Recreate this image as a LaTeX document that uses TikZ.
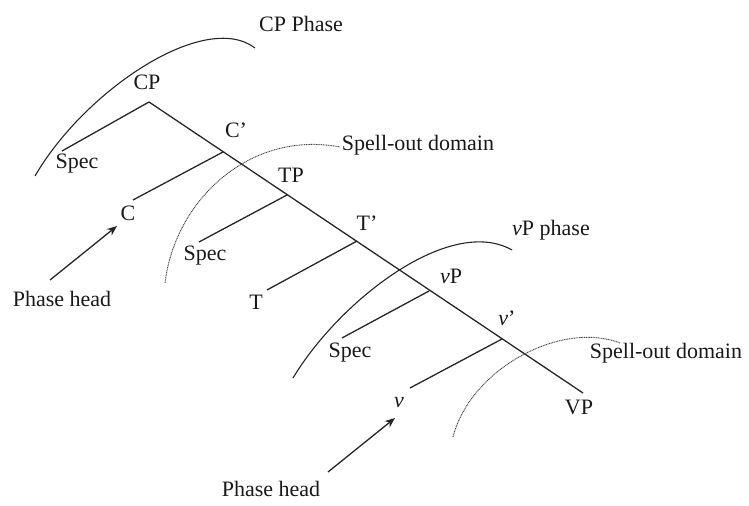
\documentclass[tikz,border=0pt]{standalone}
\usepackage{fontspec}
\setmainfont{Liberation Serif}
\usetikzlibrary{arrows.meta}
\begin{document}
\begin{tikzpicture}[x=0.5pt,y=-0.5pt,
  lbl/.style={font=\fontsize{11}{13}\selectfont, inner sep=0pt, text=black!90},
  branch/.style={line width=0.65pt, draw=black!85},
  phasearc/.style={line width=0.55pt, draw=black!85},
  spellarc/.style={line width=0.45pt, draw=black!75, dash pattern=on 0.5pt off 0.35pt},
  headarrow/.style={line width=0.65pt, draw=black!85, -{Stealth[length=5pt,width=4pt]}}]
\useasboundingbox (0,0) rectangle (749,506);
% labels
\node[lbl] (cpphase) at (301,24) {CP Phase};
\node[lbl] (cp) at (147,82) {CP};
\node[lbl] (spec1) at (77,164) {Spec};
\node[lbl] (cbar) at (236,130) {C’};
\node[lbl] (c) at (128,213) {C};
\node[lbl] (spell1) at (418,145) {Spell-out domain};
\node[lbl] (tp) at (291,175) {TP};
\node[lbl] (spec2) at (205,256) {Spec};
\node[lbl] (tbar) at (367,223) {T’};
\node[lbl] (t) at (256,302) {T};
\node[lbl] (vpphase) at (551,230) {\textit{v}P phase};
\node[lbl] (vp) at (451,276) {\textit{v}P};
\node[lbl] (spec3) at (350,353) {Spec};
\node[lbl] (vbar) at (507,318) {\textit{v}’};
\node[lbl] (spell2) at (666,353) {Spell-out domain};
\node[lbl] (v) at (399,403) {\textit{v}};
\node[lbl] (bigvp) at (579,407) {VP};
\node[lbl] (head1) at (62,299) {Phase head};
\node[lbl] (head2) at (271,489) {Phase head};
% tree points
\coordinate (cpv) at (149,102);
\coordinate (cbarv) at (223,152);
\coordinate (tpv) at (287,195);
\coordinate (tbarv) at (357,241);
\coordinate (vpv) at (429,291);
\coordinate (vbarv) at (502,339);
\coordinate (vpend) at (583,393);
\coordinate (spec1end) at (62,151);
\coordinate (cend) at (133,200);
\coordinate (spec2end) at (199,242);
\coordinate (tend) at (267,290);
\coordinate (spec3end) at (342,338);
\coordinate (vend) at (410,388);
% tree
\draw[branch] (cpv) -- (vpend);
\draw[branch] (cpv) -- (spec1end);
\draw[branch] (cbarv) -- (cend);
\draw[branch] (tpv) -- (spec2end);
\draw[branch] (tbarv) -- (tend);
\draw[branch] (vpv) -- (spec3end);
\draw[branch] (vbarv) -- (vend);
% phase arcs
\coordinate (a1s) at (35,176);
\coordinate (a1e) at (255,48);
\draw[phasearc] (a1s) .. controls (85,90) and (205,10) .. (a1e);
\coordinate (a2s) at (293,378);
\coordinate (a2e) at (512,250);
\draw[phasearc] (a2s) .. controls (340,300) and (450,215) .. (a2e);
% spell-out arcs
\coordinate (s1s) at (165,283);
\coordinate (s1e) at (340,147);
\draw[spellarc] (s1s) .. controls (175,200) and (250,130) .. (s1e);
\coordinate (s2s) at (453,437);
\coordinate (s2e) at (620,343);
\draw[spellarc] (s2s) .. controls (470,370) and (560,320) .. (s2e);
% arrows
\coordinate (h1s) at (50,280);
\coordinate (h1e) at (117,226);
\draw[headarrow] (h1s) -- (h1e);
\coordinate (h2s) at (328,472);
\coordinate (h2e) at (395,418);
\draw[headarrow] (h2s) -- (h2e);
\end{tikzpicture}
\end{document}
